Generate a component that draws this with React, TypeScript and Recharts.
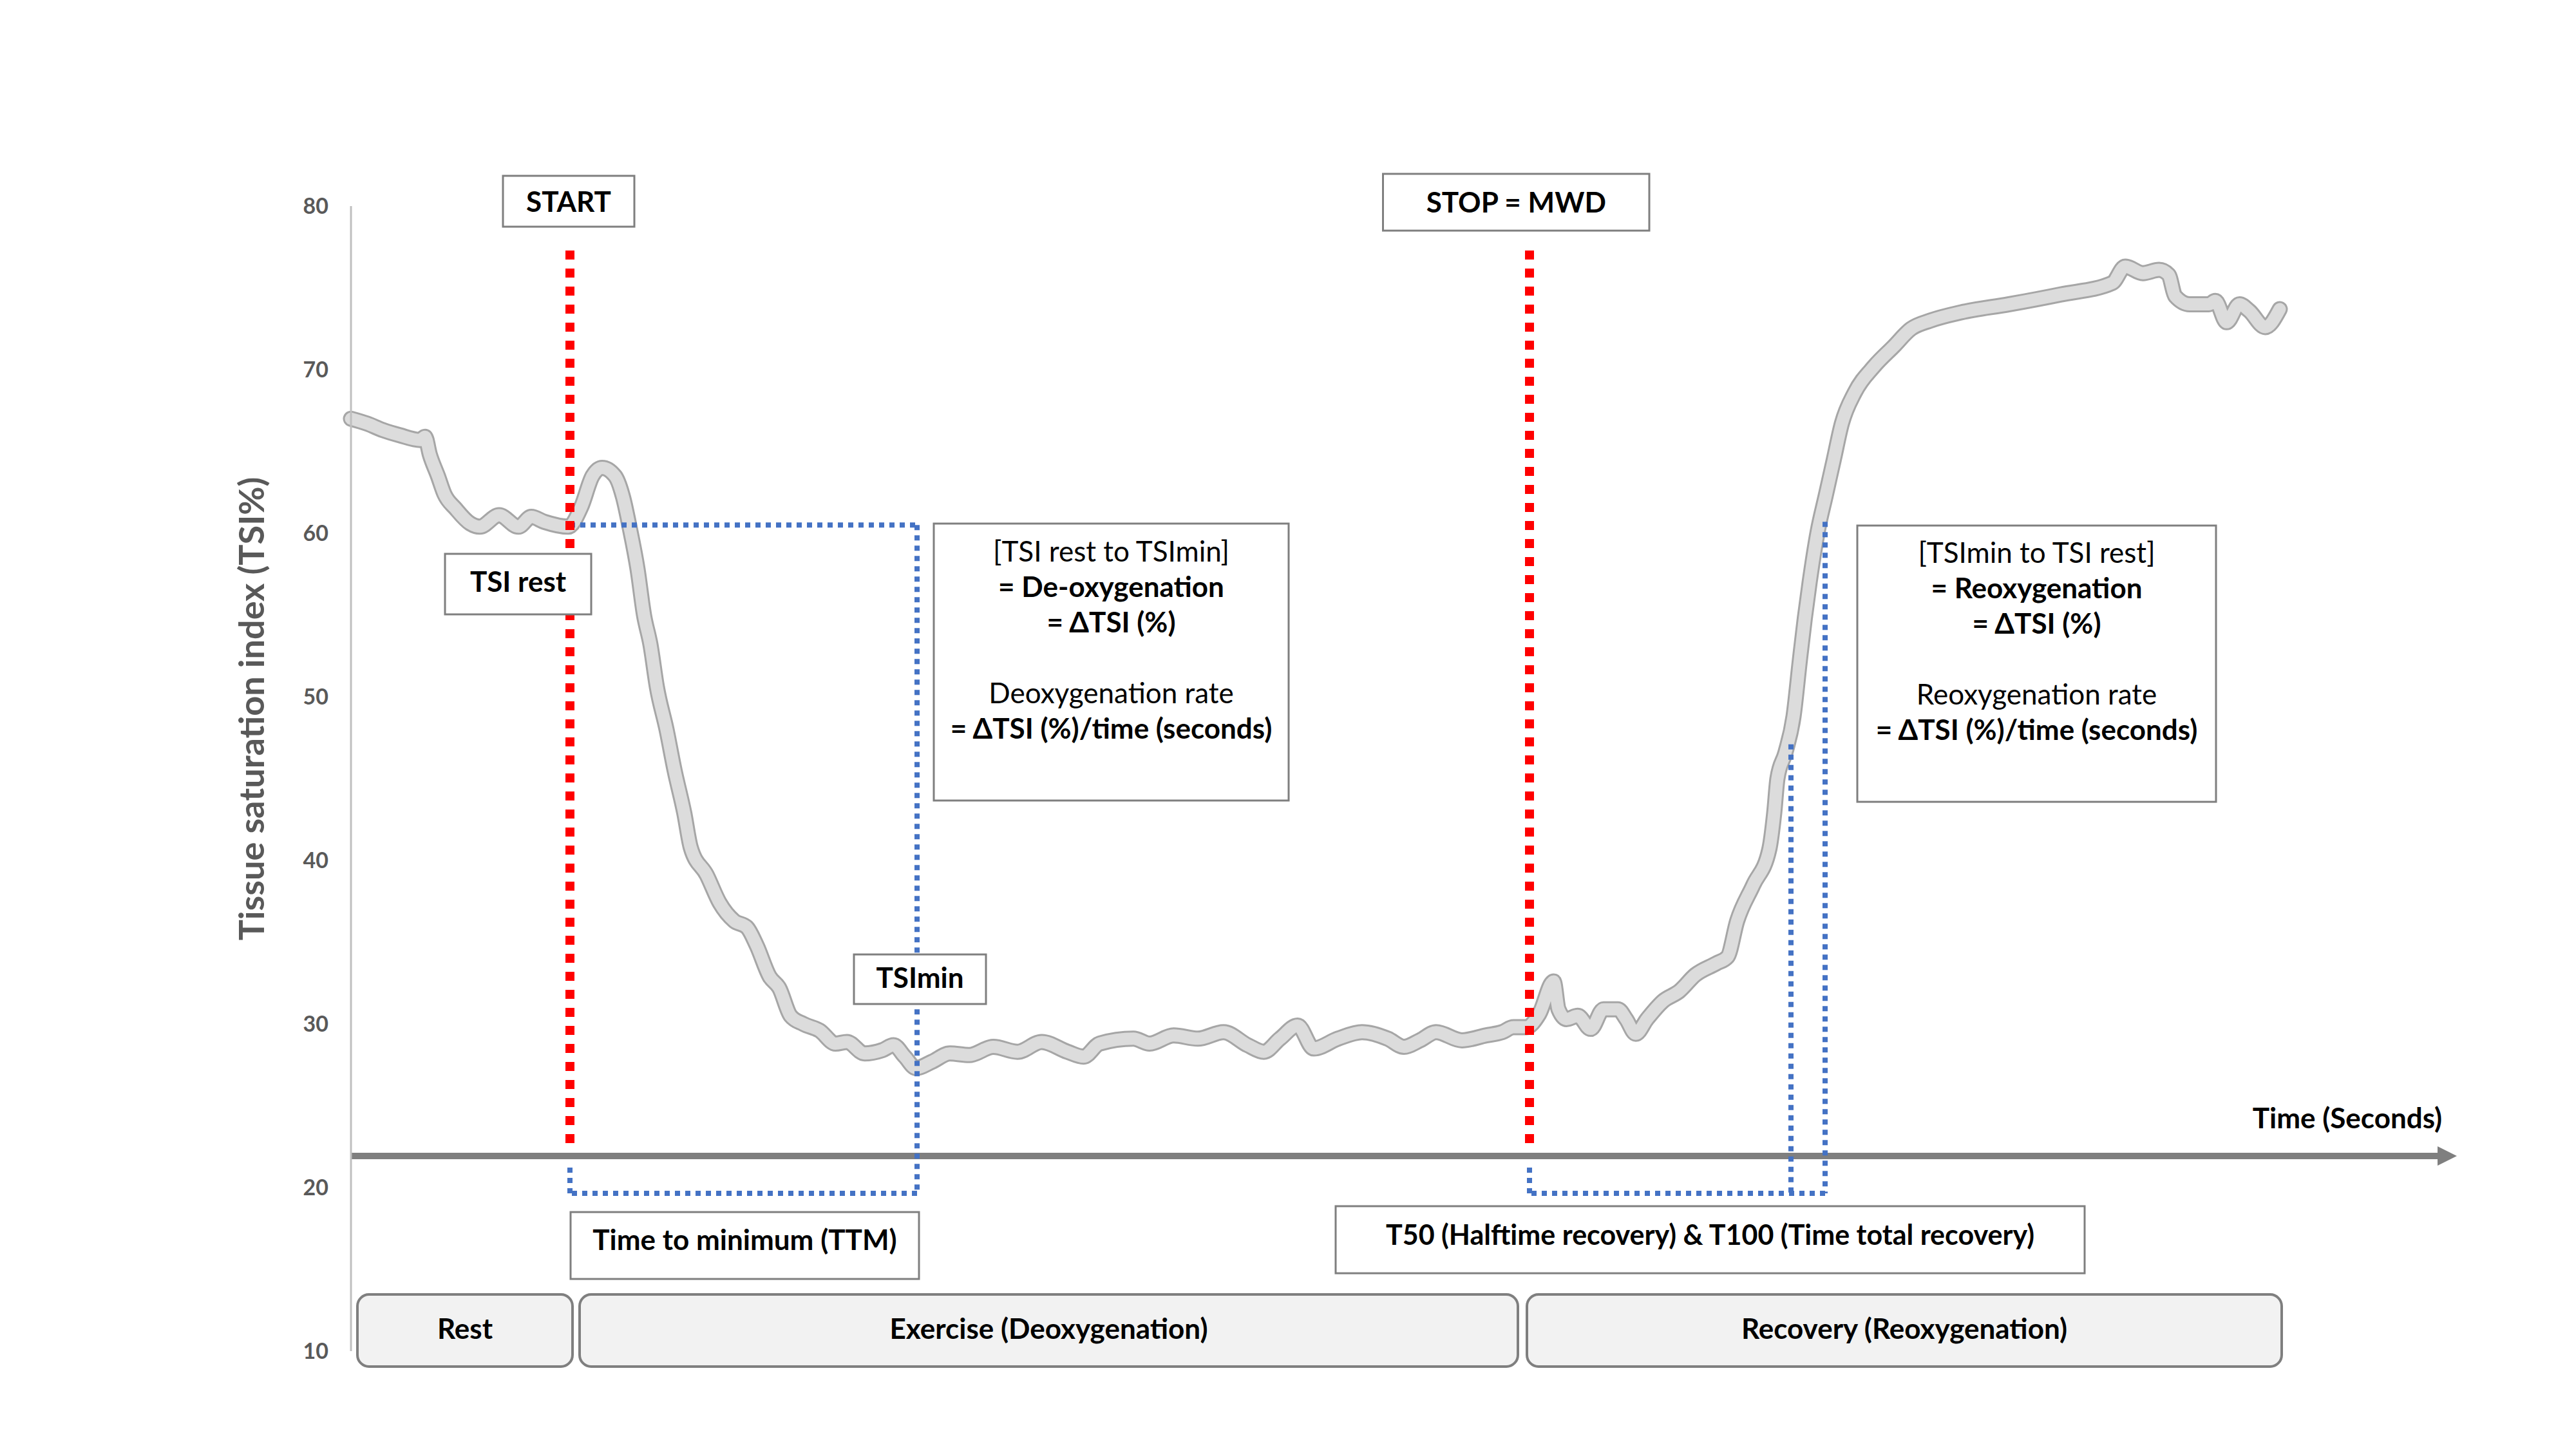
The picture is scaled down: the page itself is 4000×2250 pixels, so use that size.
import {
  ComposedChart,
  Line,
  XAxis,
  YAxis,
  ReferenceLine,
  ReferenceArea,
  ReferenceDot,
  Label,
} from "recharts";

// time (s) and tissue saturation index (%)
const timeSec = [
  0, 10, 20, 30, 43, 46, 49, 54, 58, 65, 74, 80, 92, 104, 112, 120, 135, 143,
  150, 156, 164, 169, 173, 178, 182, 186, 190, 196, 201, 207, 211, 221, 229,
  238, 246, 252, 260, 266, 273, 281, 291, 301, 308, 319, 330, 337, 344, 351,
  361, 372, 384, 399, 414, 429, 445, 455, 465, 486, 496, 511, 526, 542, 557,
  567, 577, 588, 598, 613, 628, 644, 654, 664, 674, 690, 705, 715, 722, 730,
  738, 747, 750, 755, 762, 770, 778, 787, 792, 798, 805, 815, 825, 835, 848,
  855, 861, 871, 881, 884, 886, 891, 896, 900, 903, 906, 911, 916, 921, 926,
  934, 946, 958, 969, 981, 1000, 1030, 1062, 1094, 1102, 1113, 1123, 1129,
  1133, 1142, 1154, 1158, 1165, 1173, 1179, 1189, 1198,
];
const tsiPct = [
  67.0, 66.7, 66.3, 66.0, 65.7, 65.9, 64.8, 63.5, 62.4, 61.5, 60.6, 60.4, 61.1,
  60.4, 61.0, 60.7, 60.4, 61.6, 63.5, 64.0, 63.5, 62.2, 60.4, 57.8, 55.0, 53.2,
  50.6, 48.0, 45.5, 42.9, 40.8, 39.1, 37.4, 36.3, 35.9, 34.8, 32.9, 32.2, 30.5,
  30.0, 29.6, 28.8, 28.9, 28.2, 28.4, 28.7, 28.0, 27.3, 27.7, 28.2, 28.1, 28.6,
  28.3, 28.9, 28.3, 28.0, 28.8, 29.1, 28.8, 29.3, 29.1, 29.5, 28.7, 28.3, 29.1,
  29.9, 28.5, 29.1, 29.5, 29.1, 28.6, 29.0, 29.5, 29.0, 29.3, 29.5, 29.8, 29.8,
  30.6, 32.6, 30.9, 30.3, 30.5, 29.7, 30.9, 30.9, 30.3, 29.4, 30.3, 31.4, 32.0,
  33.0, 33.7, 34.1, 36.3, 38.5, 40.7, 42.9, 45.0, 46.6, 48.8, 52.3, 54.8, 57.0,
  60.1, 62.3, 64.5, 66.7, 68.6, 70.2, 71.4, 72.5, 73.0, 73.5, 74.0, 74.6, 75.3,
  76.3, 75.9, 76.1, 75.8, 74.5, 74.0, 74.0, 74.2, 72.9, 74.0, 73.6, 72.6, 73.7,
];
const yTicks = [10, 20, 30, 40, 50, 60, 70, 80];

const startT = 136;
const stopT = 732;
const tsiRest = 60.5;
const ttmT = 351.6;
const t50T = 894.4;
const t100T = 915.6;
const t50Tsi = 47.1;
const t100Tsi = 60.7;
const axisTsi = 21.93;
const bracketTsi = 19.65;

const phases = [
  { label: "Rest", from: 4, to: 137.6 },
  { label: "Exercise (Deoxygenation)", from: 142, to: 724.8 },
  { label: "Recovery (Reoxygenation)", from: 730.4, to: 1199.2 },
];

const data = timeSec.map((t, i) => ({ t, tsi: tsiPct[i] }));

const FONT = "Lato, 'Open Sans', sans-serif";
const RED = "#ff0000";
const BLUE = "#4472c4";

type TextLine = { text: string; bold?: boolean };

const textBox =
  (lines: TextLine[], opts: { offsets?: number[]; size?: number; dy?: number } = {}) =>
  (p: any) => {
    const { x, y, width, height } = p;
    const size = opts.size ?? 44;
    return (
      <g>
        <rect
          x={x}
          y={y}
          width={width}
          height={height}
          fill="#ffffff"
          stroke="#7f7f7f"
          strokeWidth={3}
        />
        {lines.map((l, i) => (
          <text
            key={i}
            x={x + width / 2}
            y={opts.offsets ? y + opts.offsets[i] - 3 : y + height / 2 + (opts.dy ?? -4)}
            textAnchor="middle"
            dominantBaseline="central"
            fontFamily={FONT}
            fontSize={size}
            fontWeight={l.bold ? 700 : 400}
            fill="#000000"
          >
            {l.text}
          </text>
        ))}
      </g>
    );
  };

const phaseBox = (label: string) => (p: any) => {
  const { x, y, width, height } = p;
  return (
    <g>
      <rect
        x={x}
        y={y}
        width={width}
        height={height}
        rx={18}
        ry={18}
        fill="#f2f2f2"
        stroke="#7f7f7f"
        strokeWidth={4}
      />
      <text
        x={x + width / 2}
        y={y + height / 2 - 4}
        textAnchor="middle"
        dominantBaseline="central"
        fontFamily={FONT}
        fontSize={44}
        fontWeight={700}
        fill="#000000"
      >
        {label}
      </text>
    </g>
  );
};

const arrowShape = (p: any) => (
  <g>
    <line x1={p.x1} y1={p.y1} x2={p.x2} y2={p.y2} stroke="#7f7f7f" strokeWidth={10} />
    <polygon
      points={`${p.x2},${p.y2 - 15} ${p.x2 + 30},${p.y2} ${p.x2},${p.y2 + 15}`}
      fill="#7f7f7f"
    />
  </g>
);

const blueSeg = (x1: number, y1: number, x2: number, y2: number, k: string) => (
  <ReferenceLine
    key={k}
    segment={[
      { x: x1, y: y1 },
      { x: x2, y: y2 },
    ]}
    stroke={BLUE}
    strokeWidth={8}
    strokeDasharray="8 8"
    ifOverflow="visible"
    zIndex={450}
  />
);

export default function App() {
  return (
    <div style={{ position: "absolute", left: 0, top: 0, background: "#fff" }}>
      <ComposedChart
        width={4000}
        height={2250}
        data={data}
        margin={{ top: 320, right: 155, bottom: 152, left: 375 }}
      >
        <XAxis type="number" dataKey="t" domain={[0, 1320]} hide />
        <YAxis
          type="number"
          domain={[10, 80]}
          ticks={yTicks}
          width={170}
          axisLine={{ stroke: "#bfbfbf", strokeWidth: 3 }}
          tickLine={false}
          tickSize={0}
          tickMargin={35}
          tick={{ fontFamily: FONT, fontSize: 34, fontWeight: 700, fill: "#595959" }}
        >
          <Label
            content={(props: any) => {
              const vb = props.viewBox;
              const cx = vb.x + 15;
              const cy = vb.y + vb.height * 0.439;
              return (
                <text
                  x={cx}
                  y={cy}
                  transform={`rotate(-90, ${cx}, ${cy})`}
                  textAnchor="middle"
                  dominantBaseline="central"
                  fontFamily={FONT}
                  fontSize={54}
                  fontWeight={700}
                  fill="#595959"
                >
                  Tissue saturation index (TSI%)
                </text>
              );
            }}
          />
        </YAxis>

        {/* time axis arrow */}
        <ReferenceLine
          segment={[
            { x: 0, y: axisTsi },
            { x: 1296, y: axisTsi },
          ]}
          shape={arrowShape}
          ifOverflow="visible"
          zIndex={250}
        />
        <ReferenceDot
          x={1240}
          y={24.3}
          ifOverflow="visible"
          zIndex={700}
          shape={(p: any) => (
            <text
              x={p.cx}
              y={p.cy}
              textAnchor="middle"
              dominantBaseline="central"
              fontFamily={FONT}
              fontSize={44}
              fontWeight={700}
              fill="#000"
            >
              Time (Seconds)
            </text>
          )}
        />

        {/* trace */}
        <Line
          type="monotone"
          dataKey="tsi"
          stroke="#a6a6a6"
          strokeWidth={25}
          strokeLinecap="round"
          dot={false}
          isAnimationActive={false}
          zIndex={300}
        />
        <Line
          type="monotone"
          dataKey="tsi"
          stroke="#dcdcdc"
          strokeWidth={19}
          strokeLinecap="round"
          dot={false}
          isAnimationActive={false}
          zIndex={301}
        />

        {/* blue brackets */}
        {blueSeg(startT, tsiRest, ttmT, tsiRest, "b1")}
        {blueSeg(ttmT, tsiRest, ttmT, bracketTsi, "b2")}
        {blueSeg(ttmT, bracketTsi, startT, bracketTsi, "b3")}
        {blueSeg(startT, bracketTsi, startT, 21.5, "b4")}
        {blueSeg(t50T, t50Tsi, t50T, bracketTsi, "b5")}
        {blueSeg(t100T, t100Tsi, t100T, bracketTsi, "b6")}
        {blueSeg(t100T, bracketTsi, stopT, bracketTsi, "b7")}
        {blueSeg(stopT, bracketTsi, stopT, 21.5, "b8")}

        {/* START / STOP */}
        <ReferenceLine
          segment={[
            { x: startT, y: 77.28 },
            { x: startT, y: 22.52 },
          ]}
          stroke={RED}
          strokeWidth={14}
          strokeDasharray="14 14"
          ifOverflow="visible"
          zIndex={460}
        />
        <ReferenceLine
          segment={[
            { x: stopT, y: 77.28 },
            { x: stopT, y: 22.52 },
          ]}
          stroke={RED}
          strokeWidth={14}
          strokeDasharray="14 14"
          ifOverflow="visible"
          zIndex={460}
        />

        <ReferenceArea x1={94.4} x2={176} y1={78.74} y2={81.85} ifOverflow="visible" zIndex={700} shape={textBox([{ text: "START", bold: true }], { dy: -1 })} />
        <ReferenceArea x1={641} x2={806.4} y1={78.5} y2={81.97} ifOverflow="visible" zIndex={700} shape={textBox([{ text: "STOP = MWD", bold: true }], { dy: -1 })} />
        <ReferenceArea x1={58.4} x2={149.2} y1={55.04} y2={58.74} ifOverflow="visible" zIndex={700} shape={textBox([{ text: "TSI rest", bold: true }], { dy: -5 })} />
        <ReferenceArea x1={312.4} x2={394.4} y1={31.22} y2={34.25} ifOverflow="visible" zIndex={700} shape={textBox([{ text: "TSImin", bold: true }])} />
        <ReferenceArea
          x1={362}
          x2={582.4}
          y1={43.66}
          y2={60.59}
          ifOverflow="visible"
          zIndex={700}
          shape={textBox(
            [
              { text: "[TSI rest to TSImin]" },
              { text: "= De-oxygenation", bold: true },
              { text: "= ΔTSI (%)", bold: true },
              { text: "Deoxygenation rate" },
              { text: "= ΔTSI (%)/time (seconds)", bold: true },
            ],
            { offsets: [45, 100, 155, 265, 320] }
          )}
        />
        <ReferenceArea
          x1={935.6}
          x2={1158.4}
          y1={43.58}
          y2={60.47}
          ifOverflow="visible"
          zIndex={700}
          shape={textBox(
            [
              { text: "[TSImin to TSI rest]" },
              { text: "= Reoxygenation", bold: true },
              { text: "= ΔTSI (%)", bold: true },
              { text: "Reoxygenation rate" },
              { text: "= ΔTSI (%)/time (seconds)", bold: true },
            ],
            { offsets: [44, 99, 154, 264, 319] }
          )}
        />
        <ReferenceArea x1={136.4} x2={352.8} y1={14.41} y2={18.5} ifOverflow="visible" zIndex={700} shape={textBox([{ text: "Time to minimum (TTM)", bold: true }], { dy: -10 })} />
        <ReferenceArea
          x1={611.6}
          x2={1076.8}
          y1={14.76}
          y2={18.86}
          ifOverflow="visible"
          zIndex={700}
          shape={textBox([{ text: "T50 (Halftime recovery) & T100 (Time total recovery)", bold: true }], { size: 43, dy: -9 })}
        />

        {phases.map((ph) => (
          <ReferenceArea
            key={ph.label}
            x1={ph.from}
            x2={ph.to}
            y1={9.06}
            y2={13.46}
            ifOverflow="visible"
            zIndex={700}
            shape={phaseBox(ph.label)}
          />
        ))}
      </ComposedChart>
    </div>
  );
}
